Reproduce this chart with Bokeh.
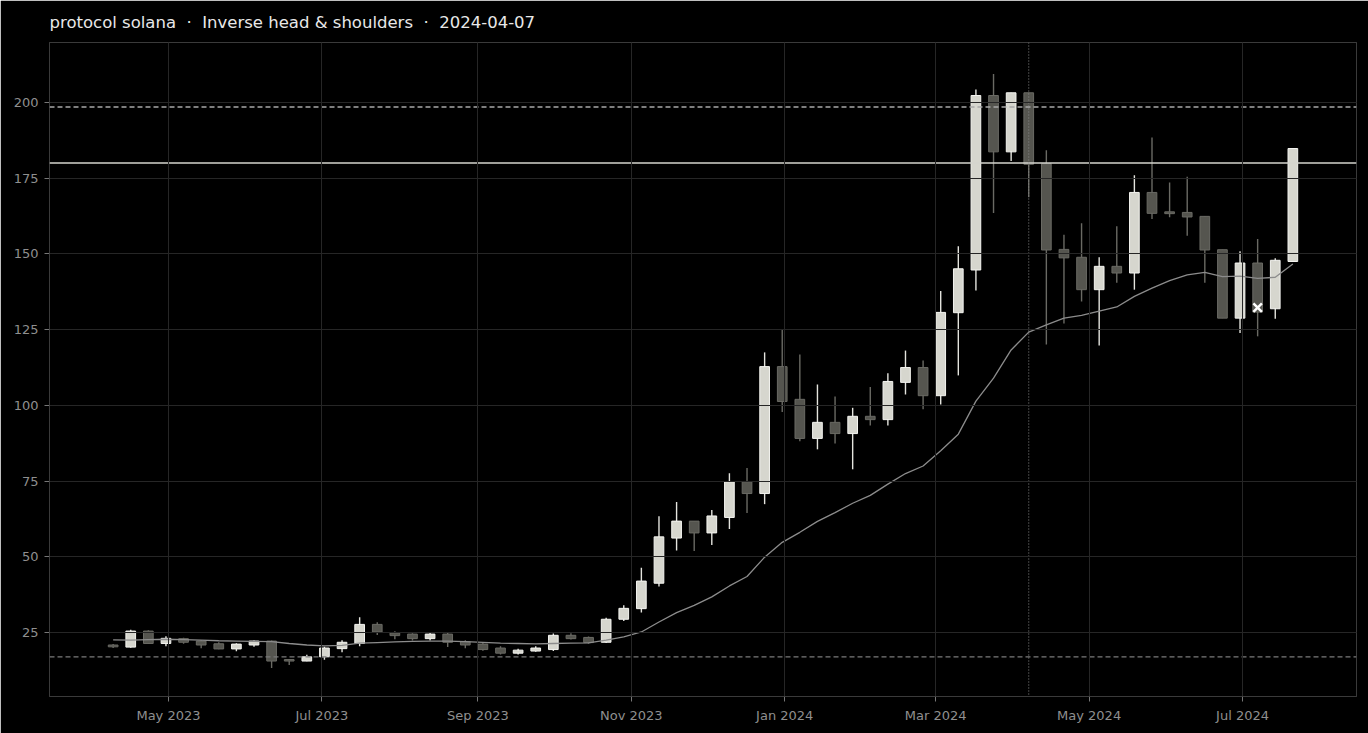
import pandas as pd
from bokeh.plotting import figure
from bokeh.models import ColumnDataSource, Span, FixedTicker, Range1d
from bokeh.embed import file_html
from bokeh.resources import INLINE

# ---------------- data ----------------
first_week = "2023-04-09"
opens = [20.9, 20.2, 25.5, 21.4, 23.0, 22.2, 21.3, 19.6, 20.9, 22.2,
         16.1, 15.6, 17.0, 19.7, 21.4, 27.7, 24.9, 24.5, 23.0, 24.5,
         22.0, 21.2, 19.9, 18.2, 18.9, 19.4, 24.1, 23.4, 21.8, 29.4,
         32.9, 41.3, 56.2, 61.8, 57.9, 63.0, 74.8, 70.9, 112.8, 102.0,
         89.1, 94.4, 90.7, 96.4, 95.3, 107.6, 112.5, 103.2, 130.6, 144.7,
         202.3, 183.7, 203.2, 179.8, 151.5, 148.9, 138.2, 145.9, 143.7, 170.3,
         163.9, 163.7, 162.4, 151.4, 128.8, 147.0, 131.9, 147.5]
closes = [20.3, 25.5, 21.4, 23.1, 21.8, 20.9, 19.6, 21.2, 22.2, 15.6,
          15.6, 17.0, 19.9, 21.8, 27.7, 25.2, 24.0, 23.0, 24.5, 21.8,
          20.9, 19.4, 18.2, 19.2, 19.9, 24.1, 23.0, 21.7, 29.4, 33.0,
          42.0, 56.6, 61.8, 57.9, 63.5, 74.8, 70.9, 112.8, 101.3, 89.1,
          94.4, 90.7, 96.4, 95.3, 107.9, 112.5, 103.2, 130.7, 145.1, 202.3,
          183.7, 203.2, 179.6, 151.3, 148.7, 138.2, 145.9, 143.7, 170.3, 163.4,
          163.3, 162.2, 151.3, 128.8, 147.0, 130.8, 147.9, 184.8]
highs = [21.2, 25.9, 25.8, 23.8, 23.3, 22.5, 21.8, 21.5, 22.4, 22.4,
         16.3, 17.7, 20.3, 22.5, 30.1, 28.4, 25.4, 24.8, 25.1, 25.1,
         22.5, 21.8, 20.5, 19.7, 20.5, 24.7, 24.8, 23.7, 29.9, 34.0,
         46.4, 63.4, 68.1, 61.8, 65.5, 77.6, 79.3, 117.5, 125.0, 116.8,
         106.9, 102.9, 99.2, 106.1, 110.6, 118.1, 114.8, 137.8, 152.5, 204.3,
         209.4, 203.2, 203.2, 184.2, 156.3, 160.1, 148.9, 159.1, 176.0, 188.4,
         173.6, 175.5, 162.4, 151.4, 150.9, 154.9, 148.6, 184.8]
lows = [19.9, 20.0, 21.2, 20.5, 21.3, 19.8, 19.5, 18.8, 20.3, 13.3,
        14.3, 15.5, 16.0, 18.5, 20.5, 24.2, 22.8, 22.4, 22.4, 20.2,
        19.8, 19.0, 17.8, 17.8, 18.7, 18.9, 22.7, 21.3, 21.6, 28.8,
        31.6, 40.2, 52.1, 51.9, 53.9, 59.2, 64.5, 67.4, 97.8, 88.2,
        85.5, 87.4, 78.9, 93.4, 93.4, 103.6, 98.7, 100.3, 109.9, 137.9,
        163.5, 180.7, 168.7, 120.1, 127.0, 134.3, 119.8, 140.5, 138.2, 161.5,
        162.1, 156.0, 140.5, 128.8, 123.9, 122.8, 128.6, 147.5]
moving_avg = [22.6, 22.5, 22.7, 22.8, 22.7, 22.5, 22.3, 22.2, 22.1, 22.0,
              21.4, 20.9, 20.6, 20.8, 21.5, 21.7, 21.9, 22.1, 22.2, 22.2,
              22.0, 21.8, 21.5, 21.4, 21.3, 21.4, 21.5, 21.6, 22.5, 23.6,
              25.2, 28.5, 31.6, 34.0, 36.8, 40.4, 43.5, 49.9, 54.8, 58.1,
              61.7, 64.6, 67.7, 70.3, 74.0, 77.5, 80.0, 85.0, 90.5, 101.4,
              109.0, 118.3, 124.2, 126.6, 128.8, 129.7, 131.1, 132.5, 136.0, 138.7,
              141.2, 143.1, 143.9, 142.5, 142.7, 141.9, 142.3, 146.7]

neckline = 180.0
upper_level = 198.5
lower_level = 17.0
pattern_date = "2024-04-07"
marker_date = "2024-07-07"
marker_price = 132.3

title_text = "protocol solana \u00a0\u00b7\u00a0 Inverse head & shoulders \u00a0\u00b7\u00a0 2024-04-07"
tick_dates = ["2023-05-01", "2023-07-01", "2023-09-01", "2023-11-01",
              "2024-01-01", "2024-03-01", "2024-05-01", "2024-07-01"]
tick_labels = ["May 2023", "Jul 2023", "Sep 2023", "Nov 2023",
               "Jan 2024", "Mar 2024", "May 2024", "Jul 2024"]
y_ticks = [25, 50, 75, 100, 125, 150, 175, 200]

# ---------------- build ----------------
dates = pd.date_range(first_week, periods=len(opens), freq="7D")
df = pd.DataFrame(dict(date=dates, open=opens, close=closes, high=highs,
                       low=lows, ma=moving_avg))
df["top"] = df[["open", "close"]].max(axis=1)
df["bottom"] = df[["open", "close"]].min(axis=1)
up = df[df.close >= df.open]
dn = df[df.close < df.open]

DAY = 86400000.0
pad = pd.Timedelta(days=25.3)
x0 = dates[0] - pad
x1 = dates[-1] + pad

BG = "#000000"
p = figure(width=1368, height=733, x_axis_type="datetime",
           output_backend="svg", toolbar_location=None,
           x_range=Range1d(x0, x1), y_range=Range1d(3.9, 219.8),
           background_fill_color=BG, border_fill_color=BG,
           min_border_left=49, min_border_right=12,
           min_border_top=42, min_border_bottom=37)

p.title.text = title_text
p.title.text_color = "#e8e8e8"
p.title.text_font = "DejaVu Sans"
p.title.text_font_size = "16.5px"
p.title.text_font_style = "normal"
p.title.align = "left"
p.title.standoff = 21

p.outline_line_color = "#3a3a3a"
p.outline_line_width = 1

for g in (p.xgrid, p.ygrid):
    g.grid_line_color = "#262626"
    g.grid_line_width = 1
    g.level = "overlay"

tick_ms = [pd.Timestamp(d).value / 1e6 for d in tick_dates]
p.xaxis.ticker = FixedTicker(ticks=tick_ms)
p.xaxis.major_label_overrides = {t: l for t, l in zip(tick_ms, tick_labels)}
p.yaxis.ticker = FixedTicker(ticks=y_ticks)

for ax in (p.xaxis, p.yaxis):
    ax.axis_line_color = None
    ax.major_tick_line_color = "#777777"
    ax.major_tick_out = 5
    ax.major_tick_in = 0
    ax.minor_tick_line_color = None
    ax.major_label_text_color = "#8f8f8f"
    ax.major_label_text_font = "DejaVu Sans"
    ax.major_label_text_font_size = "13px"
    ax.major_label_standoff = 6

w = 0.55 * 7 * DAY
src_up = ColumnDataSource(up)
src_dn = ColumnDataSource(dn)

p.segment("date", "high", "date", "low", source=src_dn,
          line_color="#6a6a64", line_width=1.4)
p.vbar("date", w, "top", "bottom", source=src_dn,
       fill_color="#55554f", line_color="#6a6a64", line_width=1)
p.segment("date", "high", "date", "low", source=src_up,
          line_color="#e4e4de", line_width=1.4)
p.vbar("date", w, "top", "bottom", source=src_up,
       fill_color="#d6d6ce", line_color="#f4f4f0", line_width=1)

p.line("date", "ma", source=ColumnDataSource(df),
       line_color="#8c8c8c", line_width=1.3)

p.add_layout(Span(location=upper_level, dimension="width",
                  line_color="#a8a8a8", line_width=1.3, line_dash="5 3"))
p.add_layout(Span(location=lower_level, dimension="width",
                  line_color="#7a7a7a", line_width=1.3, line_dash="5 3"))
p.add_layout(Span(location=neckline, dimension="width",
                  line_color="#d4d4ce", line_width=1.6))
p.add_layout(Span(location=pd.Timestamp(pattern_date).value / 1e6,
                  dimension="height", line_color="#8a8a8a",
                  line_width=1, line_dash="1 2"))

p.scatter(x=[pd.Timestamp(marker_date)], y=[marker_price], marker="x",
          size=12, line_color="#ffffff", line_width=2.5)

open("out.html", "w").write(file_html(p, INLINE))
